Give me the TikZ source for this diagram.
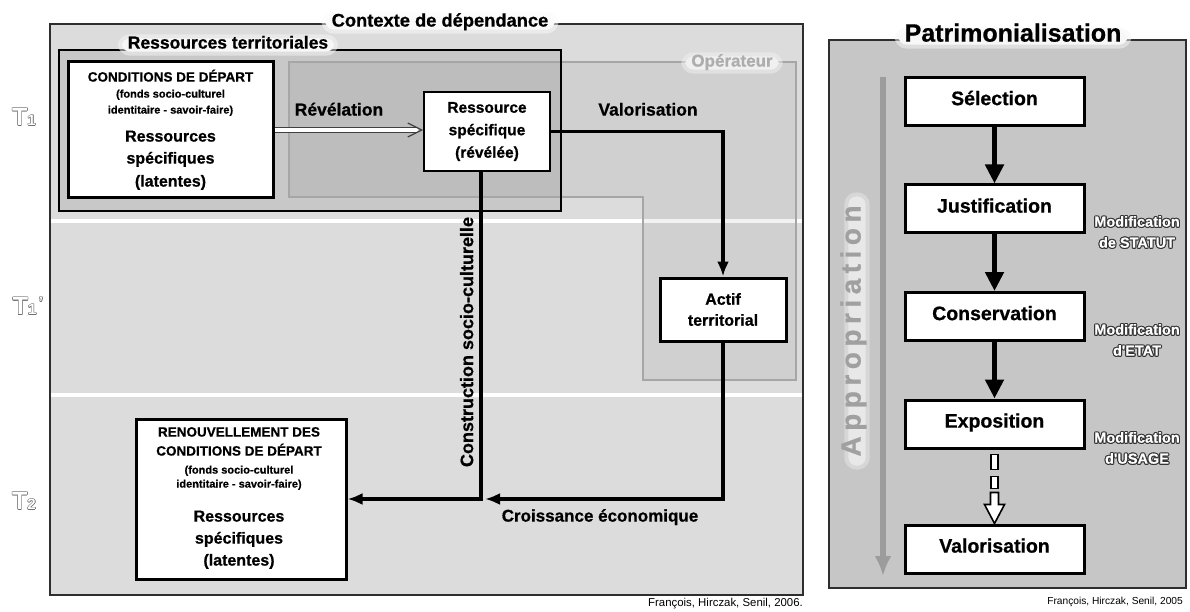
\documentclass[tikz,border=0pt]{standalone}
\usepackage{fontspec}
\setmainfont{Liberation Sans}
\newfontfamily\hv{Liberation Sans Bold}[FakeBold=0.7]
\usetikzlibrary{arrows.meta,calc}
\newcommand\fsz[1]{\fontsize{#1}{#1}\selectfont}
\newcommand\lettk{\kern5.5pt}
% outlined text: #1 offset, #2 outline colour, #3 fill colour, #4 text
\newcommand\outl[4]{\leavevmode
 \rlap{\textcolor{#2}{\kern-#1#4}}%
 \rlap{\textcolor{#2}{\kern#1#4}}%
 \rlap{\textcolor{#2}{\raisebox{#1}{#4}}}%
 \rlap{\textcolor{#2}{\raisebox{-#1}{#4}}}%
 \rlap{\textcolor{#2}{\kern-0.7\dimexpr#1\relax\raisebox{0.7\dimexpr#1\relax}{#4}}}%
 \rlap{\textcolor{#2}{\kern0.7\dimexpr#1\relax\raisebox{0.7\dimexpr#1\relax}{#4}}}%
 \rlap{\textcolor{#2}{\kern-0.7\dimexpr#1\relax\raisebox{-0.7\dimexpr#1\relax}{#4}}}%
 \rlap{\textcolor{#2}{\kern0.7\dimexpr#1\relax\raisebox{-0.7\dimexpr#1\relax}{#4}}}%
 \textcolor{#3}{#4}}
\definecolor{bgL}{HTML}{DCDCDC}
\definecolor{resT}{HTML}{C8C8C8}
\definecolor{opL}{HTML}{A6A6A6}
\definecolor{opT}{HTML}{ADADAD}
\definecolor{frameC}{HTML}{2E2E2E}
\definecolor{bgR}{HTML}{C6C6C6}
\definecolor{apG}{HTML}{9C9C9C}
\definecolor{apT}{HTML}{A0A0A0}
\definecolor{tgray}{HTML}{707070}
\definecolor{mdark}{HTML}{333333}
\begin{document}
\begin{tikzpicture}[x=1pt,y=-1pt,
  box/.style={draw=black, line width=3pt, fill=white, inner sep=0pt},
  conn/.style={line width=3.8pt, draw=black},
  tip/.style={-{Latex[length=15pt,width=12pt]}},
  rarr/.style={line width=5pt, draw=black, -{Triangle[length=19pt,width=18pt]}},
  lab/.style={font=\fsz{17.5}\hv, inner sep=0pt, text height=0.72em, text depth=0pt},
  small/.style={font=\fsz{11}\hv, inner sep=0pt, text height=0.72em, text depth=0pt},
  caps/.style={font=\fsz{13.5}\hv, inner sep=0pt, text height=0.72em, text depth=0pt},
  mid/.style={font=\fsz{16}\hv, inner sep=0pt, text height=0.72em, text depth=0pt},
  glow/.style={fill=#1, rounded corners=8pt, inner xsep=6pt, inner ysep=3pt,
     text height=0.72em, text depth=0pt,
     preaction={draw=#1, draw opacity=0.5, line width=8pt}},
  rbox/.style={draw=black, line width=3pt, fill=white, minimum width=179pt, minimum height=48pt,
     font=\fsz{19.5}\hv, text height=0.72em, text depth=0pt},
  tl/.style={inner sep=0pt, font=\bfseries},
  modl/.style={inner sep=0pt, align=center, font=\fontsize{14.5}{21}\selectfont\hv},
  hollow/.style={line width=1.6pt, draw=black, fill=white, line join=miter},
  revl/.style={line width=1pt, draw=black!75, double=white, double distance=3.5pt}
]
\useasboundingbox (0,0) rectangle (1190,612);
\fill[white] (0,0) rectangle (1190,612);

% ---------------- left panel ----------------
\fill[bgL] (50,24) rectangle (803,595);
\fill[white] (51,219) rectangle (802,223);
\fill[white] (51,393) rectangle (802,397);
\fill[resT] (59,50) rectangle (561,211);
\draw[line width=2pt, draw=opL, fill=black, fill opacity=0.05]
  (289,62) -- (796,62) -- (796,380) -- (643,380) -- (643,197) -- (289,197) -- cycle;
\draw[line width=2pt, draw=black] (59,50) rectangle (561,211);
\draw[line width=2pt, draw=frameC] (50,24) rectangle (803,595);

\node[glow=white!96!gray, font=\fsz{18.3}\hv] (tctx) at (440,23) {Contexte de dépendance};
\node[glow=white!94!gray, font=\fsz{17.5}\hv] (tres) at (228,45) {Ressources territoriales};
\node[glow=white!88!gray, font=\fsz{17}\hv, text=opT] (topr) at (732,63) {Opérateur};

% time labels
\node[tl] (t1) at (24,117) {\outl{0.55pt}{tgray}{white}{{\fsz{25}T}{\fsz{15}1}}};
\node[tl] (t1p) at (28,306) {\outl{0.55pt}{tgray}{white}{{\fsz{25}T}{\fsz{15}1\,\raisebox{7pt}{'}}}};
\node[tl] (t2) at (24,501) {\outl{0.55pt}{tgray}{white}{{\fsz{25}T}{\fsz{15}2}}};

% conditions de depart
\node[box, minimum width=205pt, minimum height=136pt] (cond) at (170.5,130) {};
\node[caps] (c1) at (170.5,78) {CONDITIONS DE DÉPART};
\node[small] (c2) at (170.5,94) {(fonds socio-culturel};
\node[small] (c3) at (170.5,110) {identitaire - savoir-faire)};
\node[mid] (c4) at (170.5,138) {Ressources};
\node[mid] (c5) at (170.5,160) {spécifiques};
\node[mid] (c6) at (170.5,183) {(latentes)};

% ressource specifique
\node[box, line width=2.5pt, minimum width=126pt, minimum height=79pt, align=center,
      font=\fontsize{15.5}{22.5}\selectfont\hv] (res) at (487,131.5)
      {Ressource\\spécifique\\(révélée)};

% actif territorial
\node[box, minimum width=126pt, minimum height=63pt, align=center,
      font=\fontsize{16}{21}\selectfont\hv] (actif) at (723,309.5)
      {Actif\\territorial};

% renouvellement
\node[box, minimum width=210pt, minimum height=160pt] (renou) at (241,499) {};
\node[caps] (r1) at (239,433) {RENOUVELLEMENT DES};
\node[caps] (r2) at (239,452) {CONDITIONS DE DÉPART};
\node[small] (r3) at (239,470) {(fonds socio-culturel};
\node[small] (r4) at (239,484) {identitaire - savoir-faire)};
\node[mid] (r5) at (239,518) {Ressources};
\node[mid] (r6) at (239,540) {spécifiques};
\node[mid] (r7) at (239,562) {(latentes)};

% connectors
\coordinate (revend) at (cond.east -| res.west);
\draw[revl] (cond.east) -- ($(revend)+(-5,0)$);
\draw[line width=1.2pt, draw=black!75, line join=miter]
  ($(revend)+(-15,-7)$) -- ($(revend)+(-1,0)$) -- ($(revend)+(-15,7)$);
\draw[conn, tip] (res.east) -| (actif.north);
\coordinate (vtop) at ($(res.south)+(-6,0)$);
\draw[conn, tip] (vtop) |- (renou.east);
\coordinate (cjr) at ($(vtop |- renou.east)+(4,0)$);
\draw[conn, tip] (actif.south) |- (cjr);

% labels
\node[lab] (lrev) at (339,112) {Révélation};
\node[lab] (lval) at (648,112) {Valorisation};
\node[lab, font=\fsz{18}\hv, rotate=90] (lcons) at (469.5,342) {Construction socio-culturelle};
\node[lab, font=\fsz{17}\hv] (lcro) at (600,518) {Croissance économique};

\node[anchor=east, inner sep=0pt, font=\fsz{11.4}] (cp1) at (803,604) {François, Hirczak, Senil, 2006.};

% ---------------- right panel ----------------
\fill[bgR] (829,40) rectangle (1186,588);
\draw[line width=2pt, draw=frameC] (829,40) rectangle (1186,588);
\node[glow=white!94!gray, font=\fsz{25}\hv] (tpat) at (1013,38) {Patrimonialisation};

\coordinate (apTop) at (883,77);
\coordinate (apBot) at (883,576);
\draw[line width=6pt, draw=apG, -{Latex[length=20pt,width=17pt]}] (apTop) -- (apBot);
\node[glow=white!82!gray, rotate=90, font=\fsz{28}\hv, text=apT, inner xsep=9pt, inner ysep=5pt] (tapp) at (857,331)
  {A\lettk p\lettk p\lettk r\lettk o\lettk p\lettk r\lettk i\lettk a\lettk t\lettk i\lettk o\lettk n};

\node[rbox] (sel) at (994.5,101.5) {Sélection};
\node[rbox] (jus) at (994.5,209) {Justification};
\node[rbox] (cons) at (994.5,316.5) {Conservation};
\node[rbox] (expo) at (994.5,424) {Exposition};
\node[rbox] (valo) at (994.5,549) {Valorisation};

\draw[rarr] (sel) -- (jus);
\draw[rarr] (jus) -- (cons);
\draw[rarr] (cons) -- (expo);

% dashed hollow arrow
\draw[hollow] ($(expo.south)+(-3.5,5)$) rectangle ($(expo.south)+(3.5,20)$);
\draw[hollow] ($(expo.south)+(-3.5,27)$) rectangle ($(expo.south)+(3.5,39)$);
\draw[hollow] ($(expo.south)+(-4,43)$) -- ($(expo.south)+(4,43)$) -- ($(expo.south)+(4,55)$)
  -- ($(expo.south)+(10,55)$) -- (valo.north) -- ($(expo.south)+(-10,55)$)
  -- ($(expo.south)+(-4,55)$) -- cycle;

\node[modl] (m1) at (1137,232) {\outl{1.1pt}{mdark}{white}{Modification}\\\outl{1.1pt}{mdark}{white}{de STATUT}};
\node[modl] (m2) at (1137,340) {\outl{1.1pt}{mdark}{white}{Modification}\\\outl{1.1pt}{mdark}{white}{d'ETAT}};
\node[modl] (m3) at (1137,448) {\outl{1.1pt}{mdark}{white}{Modification}\\\outl{1.1pt}{mdark}{white}{d'USAGE}};

\node[anchor=east, inner sep=0pt, font=\fsz{10.2}] (cp2) at (1183,602) {François, Hirczak, Senil, 2005};
\end{tikzpicture}
\end{document}
